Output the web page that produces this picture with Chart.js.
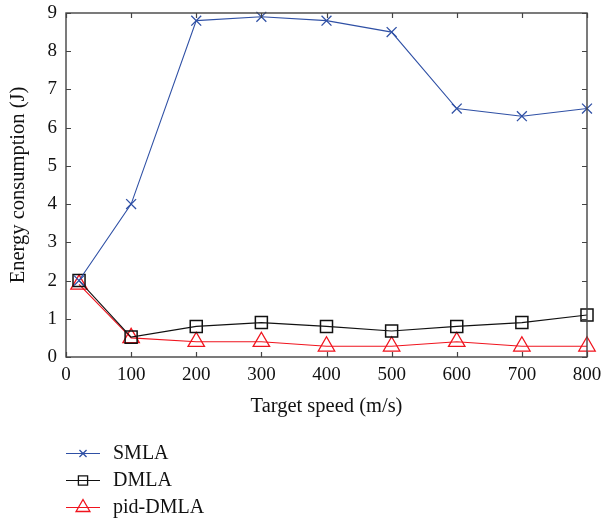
<!DOCTYPE html>
<html>
<head>
<meta charset="utf-8">
<script src="https://cdn.jsdelivr.net/npm/chart.js@4"></script>
<style>
  html, body { margin: 0; padding: 0; background: #fff; }
  #wrap { width: 603px; height: 519px; }
</style>
</head>
<body>
<div id="wrap"><canvas id="energyChart" width="603" height="519"></canvas></div>
<script>
// Energy consumption vs target speed
const speeds = [20, 100, 200, 300, 400, 500, 600, 700, 800];
const smla = [2.0, 4.0, 8.8, 8.9, 8.8, 8.5, 6.5, 6.3, 6.5];
const dmla = [2.0, 0.52, 0.8, 0.9, 0.8, 0.68, 0.8, 0.9, 1.1];
const pidDmla = [1.9, 0.5, 0.4, 0.4, 0.28, 0.28, 0.4, 0.28, 0.28];
const seriesNames = ['SMLA', 'DMLA', 'pid-DMLA'];

const FONT = '"Liberation Serif", "DejaVu Serif", serif';
const AXIS_COLOR = '#444';

function toPoints(values) {
    return values.map((v, i) => ({ x: speeds[i], y: v }));
}

// box around the plot, with inward tick marks on all four sides
const frameTicks = {
    id: 'frameTicks',
    afterDatasetsDraw(chart) {
        const { ctx, chartArea: a, scales } = chart;
        ctx.save();
        ctx.strokeStyle = AXIS_COLOR;
        ctx.lineWidth = 1.4;
        ctx.strokeRect(a.left, a.top, a.right - a.left, a.bottom - a.top);
        ctx.lineWidth = 1.2;
        ctx.beginPath();
        scales.x.ticks.forEach(t => {
            const px = Math.round(scales.x.getPixelForValue(t.value)) + 0.5;
            ctx.moveTo(px, a.bottom); ctx.lineTo(px, a.bottom - 5);
            ctx.moveTo(px, a.top); ctx.lineTo(px, a.top + 5);
        });
        scales.y.ticks.forEach(t => {
            const py = Math.round(scales.y.getPixelForValue(t.value)) + 0.5;
            ctx.moveTo(a.left, py); ctx.lineTo(a.left + 5, py);
            ctx.moveTo(a.right, py); ctx.lineTo(a.right - 5, py);
        });
        ctx.stroke();
        ctx.restore();
    }
};

// legend stacked below the chart, left aligned with the plot
const stackedLegend = {
    id: 'stackedLegend',
    afterDraw(chart) {
        const { ctx, chartArea: a } = chart;
        const rows = [453, 480, 507];
        const legendRadius = [5, 6.5, 8];
        ctx.save();
        chart.data.datasets.forEach((ds, i) => {
            const y = rows[i];
            ctx.strokeStyle = ds.borderColor;
            ctx.fillStyle = 'rgba(0,0,0,0)';
            ctx.lineWidth = 1.2;
            ctx.beginPath();
            ctx.moveTo(a.left, y + 0.5);
            ctx.lineTo(a.left + 34, y + 0.5);
            ctx.stroke();
            ctx.lineWidth = 1.3;
            Chart.helpers.drawPoint(ctx, {
                pointStyle: ds.pointStyle,
                radius: legendRadius[i],
                borderWidth: 1.3,
                rotation: 0
            }, a.left + 17, y + 0.5);
            ctx.fillStyle = '#111';
            ctx.font = '20px ' + FONT;
            ctx.textBaseline = 'middle';
            ctx.fillText(ds.label, a.left + 47, y + 1);
        });
        ctx.restore();
    }
};

const ctx = document.getElementById('energyChart');
new Chart(ctx, {
    type: 'line',
    data: {
        datasets: [
            {
                label: seriesNames[0],
                data: toPoints(smla),
                borderColor: '#2f50a5',
                backgroundColor: 'rgba(0,0,0,0)',
                borderWidth: 1.1,
                pointStyle: 'crossRot',
                pointRadius: 7,
                pointBorderWidth: 1.3
            },
            {
                label: seriesNames[1],
                data: toPoints(dmla),
                borderColor: '#111',
                backgroundColor: 'rgba(0,0,0,0)',
                borderWidth: 1.1,
                pointStyle: 'rect',
                pointRadius: 8.5,
                pointBorderWidth: 1.5
            },
            {
                label: seriesNames[2],
                data: toPoints(pidDmla),
                borderColor: '#f0141e',
                backgroundColor: 'rgba(0,0,0,0)',
                borderWidth: 1.1,
                pointStyle: 'triangle',
                pointRadius: 9.5,
                pointBorderWidth: 1.3
            }
        ]
    },
    options: {
        responsive: false,
        animation: false,
        devicePixelRatio: 1,
        layout: { padding: { left: 0, top: 13, right: 16, bottom: 96 } },
        clip: false,
        elements: { line: { tension: 0 } },
        plugins: {
            legend: { display: false },
            tooltip: { enabled: false }
        },
        scales: {
            x: {
                type: 'linear',
                min: 0,
                max: 800,
                grid: { display: false, drawTicks: false },
                border: { display: false },
                ticks: {
                    stepSize: 100,
                    padding: 7,
                    color: '#111',
                    maxRotation: 0,
                    font: { family: FONT, size: 19 }
                },
                title: {
                    display: true,
                    text: 'Target speed (m/s)',
                    color: '#111',
                    padding: { top: 4, bottom: 4 },
                    font: { family: FONT, size: 20.5 }
                },
                afterFit(scale) {
                    scale.height = 66;
                    scale.paddingLeft = 0;
                    scale.paddingRight = 0;
                }
            },
            y: {
                min: 0,
                max: 9,
                grid: { display: false, drawTicks: false },
                border: { display: false },
                ticks: {
                    stepSize: 1,
                    padding: 9,
                    color: '#111',
                    font: { family: FONT, size: 19 }
                },
                title: {
                    display: true,
                    text: 'Energy consumption (J)',
                    color: '#111',
                    padding: { top: 6, bottom: 4 },
                    font: { family: FONT, size: 20.5 }
                },
                afterFit(scale) {
                    scale.width = 66;
                    scale.paddingTop = 0;
                    scale.paddingBottom = 0;
                }
            }
        }
    },
    plugins: [frameTicks, stackedLegend]
});
</script>
</body>
</html>
